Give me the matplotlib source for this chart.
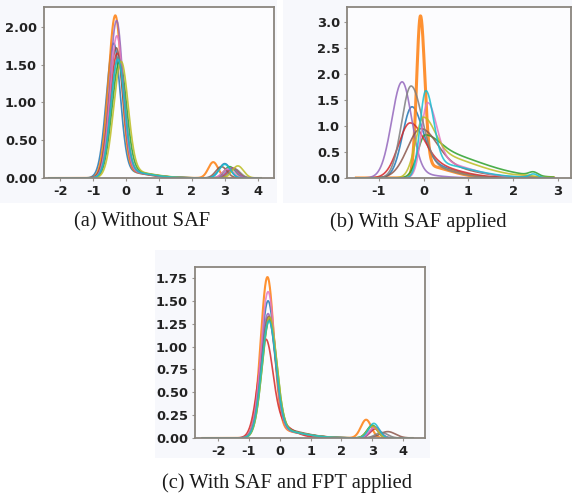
import numpy as np
import matplotlib
matplotlib.use("Agg")
import matplotlib.pyplot as plt
from matplotlib.patches import Rectangle

# ---------------- data ----------------
colors = ["#1f77b4", "#ff7f0e", "#2ca02c", "#d62728", "#9467bd",
          "#8c564b", "#e377c2", "#7f7f7f", "#bcbd22", "#17becf"]

# Panel (a): Without SAF
a_peak_x = [-0.38, -0.33, -0.20, -0.27, -0.29, -0.30, -0.28, -0.24, -0.15, -0.25]
a_peak_y = [1.78, 2.15, 1.54, 1.65, 2.08, 1.72, 1.88, 1.60, 1.54, 1.57]
a_sd_left = [0.22, 0.21, 0.23, 0.22, 0.21, 0.22, 0.21, 0.22, 0.23, 0.22]
a_sd_right = [0.20, 0.19, 0.21, 0.20, 0.19, 0.20, 0.19, 0.20, 0.21, 0.20]
a_tail_y = [0.10, 0.10, 0.10, 0.10, 0.10, 0.10, 0.10, 0.10, 0.10, 0.10]
a_tail_sd = [0.80, 0.80, 0.80, 0.80, 0.80, 0.80, 0.80, 0.80, 0.80, 0.80]
a_bump_x = [3.00, 2.65, 3.15, 3.25, 3.20, 2.90, 3.10, 3.30, 3.40, 3.00]
a_bump_y = [0.19, 0.21, 0.15, 0.13, 0.13, 0.15, 0.12, 0.12, 0.16, 0.18]
a_bump_sd = [0.17, 0.15, 0.17, 0.17, 0.17, 0.17, 0.17, 0.17, 0.17, 0.17]
a_xrange = [-2.35, 4.1]

# Panel (b): With SAF applied
b_peak_x = [-0.26, -0.07, 0.04, -0.30, -0.48, -0.06, 0.09, -0.28, 0.00, 0.05]
b_peak_y = [1.37, 3.12, 0.83, 1.06, 1.85, 0.95, 1.45, 1.77, 1.17, 1.68]
b_sd_left = [0.21, 0.085, 0.17, 0.26, 0.23, 0.30, 0.14, 0.21, 0.18, 0.13]
b_sd_right = [0.23, 0.095, 0.30, 0.30, 0.21, 0.35, 0.20, 0.24, 0.25, 0.17]
b_tail_y = [0.35, 0.25, 0.55, 0.35, 0.10, 0.30, 0.35, 0.30, 0.50, 0.30]
b_tail_sd = [0.70, 0.60, 1.10, 0.80, 0.60, 0.90, 0.80, 0.70, 1.00, 0.90]
b_bump_x = [2.30, 2.30, 2.45, 2.30, 2.30, 2.30, 2.30, 2.30, 2.30, 2.45]
b_bump_y = [0.02, 0.00, 0.07, 0.03, 0.00, 0.02, 0.02, 0.02, 0.02, 0.07]
b_bump_sd = [0.15, 0.15, 0.10, 0.15, 0.15, 0.15, 0.15, 0.15, 0.15, 0.10]
b_xrange = [-1.5, 2.9]

# Panel (c): With SAF and FPT applied
c_peak_x = [-0.38, -0.40, -0.33, -0.45, -0.38, -0.36, -0.38, -0.36, -0.33, -0.35]
c_peak_y = [1.50, 1.76, 1.30, 1.08, 1.36, 1.33, 1.60, 1.30, 1.32, 1.28]
c_sd_left = [0.23, 0.22, 0.24, 0.25, 0.24, 0.24, 0.23, 0.24, 0.24, 0.24]
c_sd_right = [0.22, 0.21, 0.23, 0.22, 0.23, 0.23, 0.22, 0.23, 0.23, 0.23]
c_tail_y = [0.10, 0.10, 0.10, 0.25, 0.10, 0.12, 0.10, 0.10, 0.10, 0.10]
c_tail_sd = [0.90, 0.90, 0.90, 0.60, 0.90, 0.90, 0.90, 0.90, 0.90, 0.90]
c_bump_x = [3.00, 2.80, 3.00, 3.10, 3.10, 3.50, 3.05, 3.30, 3.00, 3.05]
c_bump_y = [0.13, 0.20, 0.14, 0.10, 0.12, 0.07, 0.11, 0.06, 0.13, 0.16]
c_bump_sd = [0.17, 0.17, 0.17, 0.17, 0.17, 0.25, 0.17, 0.20, 0.17, 0.17]
c_xrange = [-2.5, 4.3]

a_xticks = [-2, -1, 0, 1, 2, 3, 4]
a_yticks = [0.0, 0.5, 1.0, 1.5, 2.0]
b_xticks = [-1, 0, 1, 2, 3]
b_yticks = [0.0, 0.5, 1.0, 1.5, 2.0, 2.5, 3.0]
c_xticks = [-2, -1, 0, 1, 2, 3, 4]
c_yticks = [0.0, 0.25, 0.5, 0.75, 1.0, 1.25, 1.5, 1.75]

captions = ["(a) Without SAF", "(b) With SAF applied", "(c) With SAF and FPT applied"]


def density(x, px, py, sl, sr, ty, tsd, bx, by, bsd):
    left = py * np.exp(-0.5 * ((x - px) / sl) ** 2)
    right = (py - ty) * np.exp(-0.5 * ((x - px) / sr) ** 2) + \
        ty * np.exp(-0.5 * ((x - px) / tsd) ** 2)
    y = np.where(x < px, left, right)
    y = y + by * np.exp(-0.5 * ((x - bx) / bsd) ** 2)
    return y


fig = plt.figure(figsize=(5.72, 5.01), dpi=100)
fig.patch.set_facecolor("white")
# light image backgrounds
for (x0, y0, w, h) in [(0, 0, 277, 203), (283, 0, 289, 203), (155, 250, 275, 208)]:
    fig.add_artist(Rectangle((x0 / 572, 1 - (y0 + h) / 501), w / 572, h / 501,
                             transform=fig.transFigure, facecolor="#f7f8fc",
                             edgecolor="none", zorder=-5))

tick_font = dict(family="DejaVu Sans", weight="bold", size=9.4)


def panel(rect, px, py, sl, sr, ty, tsd, bx, by, bsd, xr, xlim, ylim, xt, yt, yfmt, lw_orange):
    ax = fig.add_axes(rect)
    ax.set_zorder(2)
    ax.set_facecolor("#fcfcfe")
    x = np.linspace(xr[0], xr[1], 800)
    for i in range(len(px)):
        y = density(x, px[i], py[i], sl[i], sr[i], ty[i], tsd[i], bx[i], by[i], bsd[i])
        lw = lw_orange if i == 1 else 1.2
        ax.plot(x, y, color=colors[i], lw=lw, alpha=0.85)
    ax.set_xlim(*xlim)
    ax.set_ylim(*ylim)
    ax.set_xticks(xt)
    ax.set_xticklabels([str(v) for v in xt], **tick_font)
    ax.set_yticks(yt)
    ax.set_yticklabels([yfmt.format(v) for v in yt], **tick_font)
    ax.tick_params(length=2, width=0.8, pad=3, color="#9a9590", labelcolor="#222222")
    for s in ax.spines.values():
        s.set_color("#8a857e")
        s.set_linewidth(1.3)
    return ax


panel([44 / 572, 1 - 178 / 501, 230 / 572, 171 / 501],
      a_peak_x, a_peak_y, a_sd_left, a_sd_right, a_tail_y, a_tail_sd,
      a_bump_x, a_bump_y, a_bump_sd, a_xrange, (-2.5, 4.5), (0, 2.26),
      a_xticks, a_yticks, "{:.2f}", 1.5)

panel([347 / 572, 1 - 178 / 501, 224 / 572, 171 / 501],
      b_peak_x, b_peak_y, b_sd_left, b_sd_right, b_tail_y, b_tail_sd,
      b_bump_x, b_bump_y, b_bump_sd, b_xrange, (-1.71, 3.29), (0, 3.29),
      b_xticks, b_yticks, "{:.1f}", 2.2)

panel([195 / 572, 1 - 438 / 501, 230 / 572, 171 / 501],
      c_peak_x, c_peak_y, c_sd_left, c_sd_right, c_tail_y, c_tail_sd,
      c_bump_x, c_bump_y, c_bump_sd, c_xrange, (-2.75, 4.71), (0, 1.87),
      c_xticks, c_yticks, "{:.2f}", 1.5)

cap_font = dict(family="Liberation Serif", size=14.8, color="#1a1a1a",
                ha="center", va="center")
fig.text(142 / 572, 1 - 222 / 501, captions[0], **cap_font)
fig.text(418 / 572, 1 - 222 / 501, captions[1], **cap_font)
fig.text(287 / 572, 1 - 483 / 501, captions[2], **cap_font)

fig.savefig("out.png", dpi=100, facecolor=fig.get_facecolor())
